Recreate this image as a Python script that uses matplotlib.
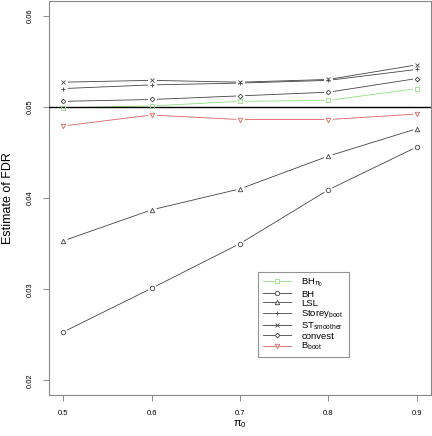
import matplotlib
matplotlib.use("Agg")
from matplotlib import pyplot as plt

plt.rcParams["font.family"] = ["Liberation Sans", "DejaVu Sans"]
plt.rcParams["mathtext.default"] = "regular"

pi0 = [0.5, 0.6, 0.7, 0.8, 0.9]
bh_pi0 = [0.0499, 0.0501, 0.0506, 0.0507, 0.0520]
bh = [0.0253, 0.0301, 0.0350, 0.0409, 0.0456]
lsl = [0.0353, 0.0387, 0.0410, 0.0446, 0.0476]
storey_boot = [0.0520, 0.0524, 0.0526, 0.0529, 0.0541]
st_smoother = [0.0527, 0.0529, 0.0527, 0.0530, 0.0546]
convest = [0.0506, 0.0508, 0.0512, 0.0516, 0.0531]
b_boot = [0.0479, 0.0491, 0.0486, 0.0486, 0.0492]

series = [
    (bh_pi0, r"BH$_{\pi_0}$", "s", "#8fdf7f"),
    (bh, "BH", "o", "#444444"),
    (lsl, "LSL", "^", "#444444"),
    (storey_boot, r"Storey$_{boot}$", "+", "#444444"),
    (st_smoother, r"ST$_{smoother}$", "x", "#444444"),
    (convest, "convest", "D", "#444444"),
    (b_boot, r"B$_{boot}$", "v", "#e06060"),
]

fig = plt.figure(figsize=(4.32, 4.36), dpi=100)
ax = fig.add_axes([49 / 432, 41 / 436, 382 / 432, 394 / 436])

handles = []
for vals, label, mk, col in series:
    ms = 2.4 if mk == "D" else 3.2
    # line, then white halo so the line stops short of the point (type="b")
    ax.plot(pi0, vals, color=col, lw=0.6, zorder=2)
    ax.plot(pi0, vals, ls="none", marker="o", ms=6.5, mfc="white", mec="none", zorder=3)
    ax.plot(pi0, vals, ls="none", marker=mk, ms=ms, mfc="none", mec=col, mew=0.6, zorder=5)
    (h,) = ax.plot([], [], color=col, lw=0.6, marker=mk, ms=ms, mfc="white", mec=col, mew=0.6)
    handles.append(h)

ax.axhline(0.05, color="black", lw=1.0, zorder=4)

ax.set_xlim(0.484, 0.916)
ax.set_ylim(0.0184, 0.0616)
ax.set_xticks(pi0)
ax.set_xticklabels(["0.5", "0.6", "0.7", "0.8", "0.9"])
ax.set_yticks([0.02, 0.03, 0.04, 0.05, 0.06])
ax.set_yticklabels(["0.02", "0.03", "0.04", "0.05", "0.06"], rotation=90, va="center")
ax.tick_params(axis="both", labelsize=5.5, length=4, width=0.6, color="#777777", pad=7)

for sp in ax.spines.values():
    sp.set_color("#888888")
    sp.set_linewidth(0.8)

ax.set_xlabel(r"$\pi_0$", fontsize=8, labelpad=1)
ax.set_ylabel("Estimate of FDR", fontsize=9, labelpad=9)

leg = ax.legend(
    handles,
    [s[1] for s in series],
    loc="upper left",
    bbox_to_anchor=(0.547, 0.312),
    borderaxespad=0,
    fontsize=6.8,
    frameon=True,
    fancybox=False,
    handlelength=3.0,
    handletextpad=1.1,
    labelspacing=0.02,
    borderpad=0.5,
)
leg.get_frame().set_edgecolor("#777777")
leg.get_frame().set_linewidth(0.8)

fig.savefig("out.png", dpi=100)
